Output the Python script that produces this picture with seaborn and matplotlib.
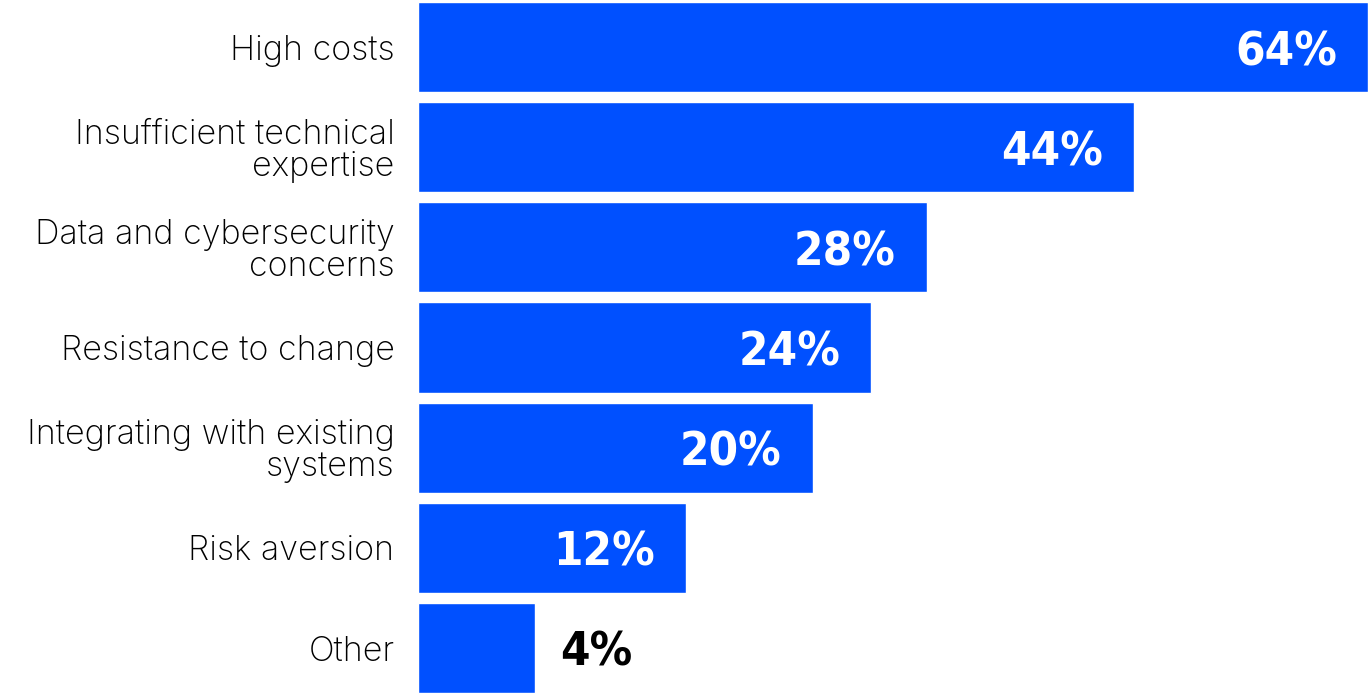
import matplotlib
matplotlib.use("Agg")
import matplotlib.pyplot as plt
import seaborn as sns
import pandas as pd

categories = [
    "High costs",
    "Insufficient technical\nexpertise",
    "Data and cybersecurity\nconcerns",
    "Resistance to change",
    "Integrating with existing\nsystems",
    "Risk aversion",
    "Other",
]
shares = [64, 44, 28, 24, 20, 12, 4]
value_labels = ["64%", "44%", "28%", "24%", "20%", "12%", "4%"]

BAR_BLUE = "#0050FF"
LABEL_FONT = ["Inter", "DejaVu Sans"]
VALUE_FONT = ["DejaVu Sans"]

sns.set_theme(style="white")
plt.rcParams["font.family"] = LABEL_FONT

df = pd.DataFrame({"barrier": categories, "share": shares})

fig = plt.figure(figsize=(13.68, 6.94), dpi=100)
ax = fig.add_axes([418 / 1368, 0.0, 950 / 1368, 1.0])

sns.barplot(data=df, y="barrier", x="share", orient="h", color=BAR_BLUE,
            saturation=1, width=0.9, ax=ax)

# compressive power scale keeps the short bars readable
p = 0.755
ax.set_xscale("function", functions=(lambda v: v ** p, lambda v: v ** (1 / p)))
ax.set_xlim(0, 64)
ax.set_ylim(6.46, -0.47)

ax.set_xlabel("")
ax.set_ylabel("")
ax.set_xticks([])
for s in ax.spines.values():
    s.set_visible(False)
ax.tick_params(axis="y", length=0, pad=17)
for t in ax.get_yticklabels():
    t.set_fontsize(24.5)
    t.set_fontweight("light")
    t.set_color("#000000")
    t.set_linespacing(1.0)

for i, (v, lab) in enumerate(zip(shares, value_labels)):
    inside = v >= 10
    ax.annotate(lab, xy=(v, i), xytext=(-31 if inside else 25, -18),
                textcoords="offset pixels", ha="right" if inside else "left",
                va="baseline", color="white" if inside else "black",
                fontsize=34, fontweight="bold", fontstretch="condensed",
                family=VALUE_FONT)

fig.savefig("out.png", dpi=100)
